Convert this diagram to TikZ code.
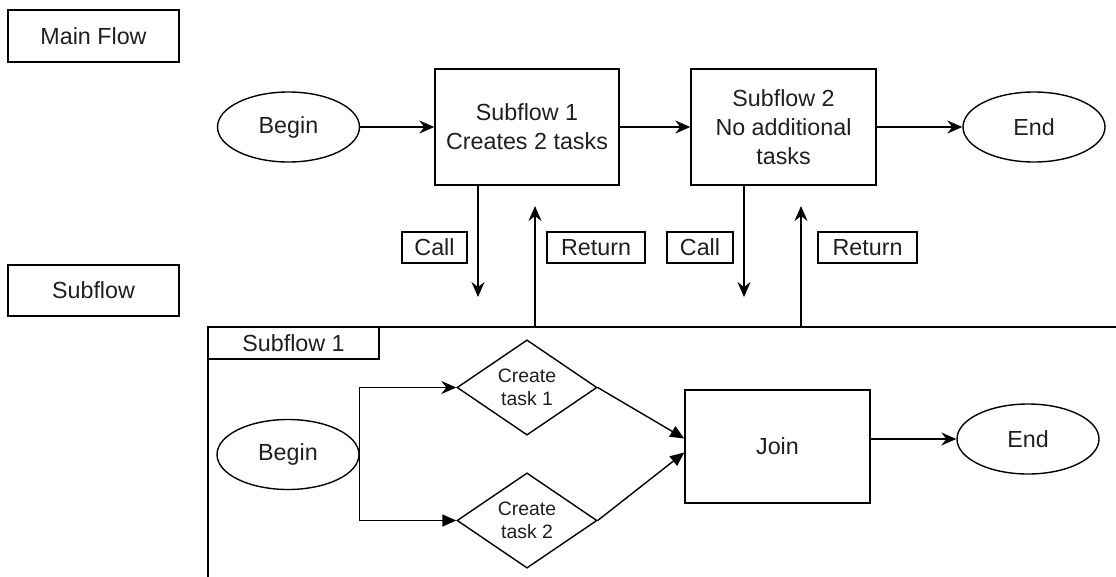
\documentclass[tikz,border=0pt]{standalone}
\usepackage{fontspec}
\setmainfont{Liberation Sans}
\usetikzlibrary{shapes.geometric,arrows.meta}
\begin{document}
\begin{tikzpicture}[x=1pt,y=-1pt,
  every node/.style={font=\fontsize{23.3}{29}\selectfont, text=black!88, line width=1.4pt, inner sep=0pt, align=center},
  box/.style={draw, rectangle},
  oval/.style={draw, ellipse, minimum width=142pt, minimum height=70pt},
  dia/.style={draw, diamond, minimum width=140pt, minimum height=89pt, font=\fontsize{19.4}{23.3}\selectfont},
  conn/.style={line width=1.4pt, -{Stealth[length=15pt,width=13pt,inset=5pt]}},
  blk/.style={line width=1.4pt, -{Triangle[length=14pt,width=12pt]}}
]
\useasboundingbox (0,0) rectangle (1116,576);

% legend boxes
\node[box, minimum width=171pt, minimum height=52pt] (mainflow) at (93.5,36) {Main Flow};
\node[box, minimum width=171pt, minimum height=51pt] (subflowlbl) at (93.5,290.5) {Subflow};

% main flow
\node[oval] (begin1) at (288.5,127) {Begin};
\node[box, minimum width=184pt, minimum height=116pt] (sf1) at (527,127) {Subflow 1\\Creates 2 tasks};
\node[box, minimum width=185pt, minimum height=116pt] (sf2) at (783.5,127) {Subflow 2\\No additional\\tasks};
\node[oval] (end1) at (1034,127) {End};

\draw[conn] (begin1.east) -- (sf1.west);
\draw[conn] (sf1.east) -- (sf2.west);
\draw[conn] (sf2.east) -- (end1.west);

% call / return labels
\node[box, minimum width=65pt, minimum height=31pt] (call1) at (434.5,247.5) {Call};
\node[box, minimum width=98pt, minimum height=31pt] (ret1) at (596,247.5) {Return};
\node[box, minimum width=66pt, minimum height=31pt] (call2) at (700,247.5) {Call};
\node[box, minimum width=99pt, minimum height=31pt] (ret2) at (867.5,247.5) {Return};

% subflow container
\node[box, minimum width=932pt, minimum height=290pt] (cont) at (674,472) {};
\node[box, minimum width=171pt, minimum height=32pt, anchor=north west] (tab) at (cont.north west) {Subflow 1};

% call / return arrows
\coordinate (c1e) at (478,297);
\coordinate (r1e) at (535,206);
\coordinate (c2e) at (744,297);
\coordinate (r2e) at (801,206);
\draw[conn] (sf1.south -| c1e) -- (c1e);
\draw[conn] (cont.north -| r1e) -- (r1e);
\draw[conn] (sf2.south -| c2e) -- (c2e);
\draw[conn] (cont.north -| r2e) -- (r2e);

% subflow contents
\node[oval] (begin2) at (288,454.5) {Begin};
\node[dia] (d1) at (527,387.5) {Create\\task 1};
\node[dia] (d2) at (527,520.5) {Create\\task 2};
\node[box, minimum width=185pt, minimum height=113pt] (join) at (777.5,446.5) {Join};
\node[oval] (end2) at (1028,439) {End};

\draw[conn] (begin2.east) |- (d1.west);
\draw[blk] (begin2.east) |- (d2.west);
\draw[blk] (d1.east) -- ([yshift=8pt]join.west);
\draw[blk] (d2.east) -- ([yshift=-6pt]join.west);
\draw[conn] (join.east |- end2.west) -- (end2.west);
\end{tikzpicture}
\end{document}
